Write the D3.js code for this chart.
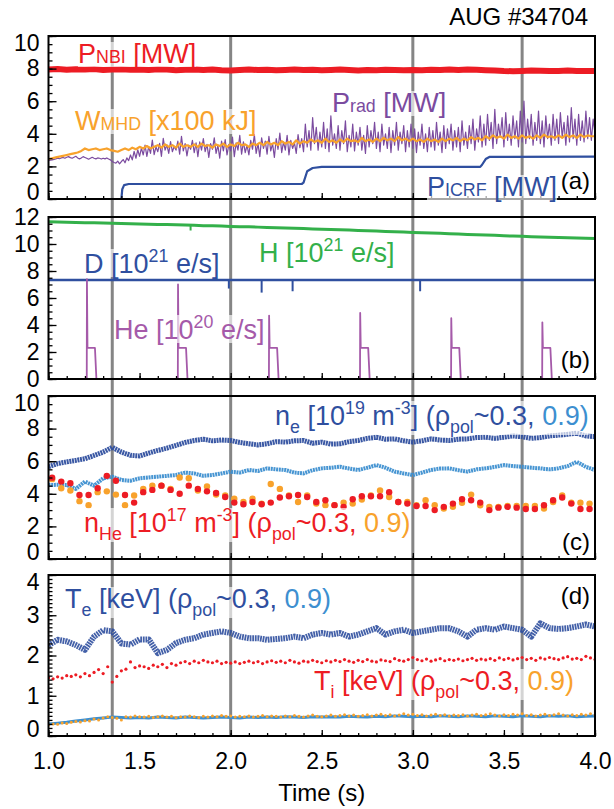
<!DOCTYPE html>
<html lang="en">
<head>
<meta charset="UTF-8" />
<title>AUG #34704 time traces</title>
<script src="https://d3js.org/d3.v7.min.js"></script>
<style>
  body { margin: 0; background: #fff; }
  svg { display: block; }
  text { font-family: "Liberation Sans", Arial, sans-serif; white-space: pre; }
</style>
</head>
<body>
<svg id="chart"></svg>
<script>
// ---------- data ----------
const timeTicks = [1.0, 1.5, 2.0, 2.5, 3.0, 3.5, 4.0];
const markTimes = [1.35, 2.0, 3.0, 3.6];
const yTicksA = [0, 2, 4, 6, 8, 10];
const yTicksB = [0, 2, 4, 6, 8, 10, 12];
const yTicksC = [0, 2, 4, 6, 8, 10];
const yTicksD = [0, 1, 2, 3, 4];

// (a) heating, radiation, stored energy
const pnbi = [ // every 50 ms from 1.0 s
  7.95,7.97,7.93,7.96,7.94,7.97,7.92,7.95,7.96,7.93,
  7.95,7.92,7.96,7.94,7.90,7.93,7.95,7.92,7.94,7.90,
  7.88,7.92,7.94,7.91,7.93,7.90,7.92,7.95,7.91,7.93,
  7.90,7.92,7.94,7.91,7.89,7.92,7.90,7.93,7.91,7.90,
  7.92,7.90,7.93,7.91,7.94,7.92,7.95,7.93,7.90,7.88,
  7.85,7.84,7.86,7.88,7.87,7.85,7.86,7.88,7.86,7.85,
  7.86];
const wmhd = [ // every 20 ms
  2.45,2.50,2.55,2.60,2.65,2.70,2.75,2.80,2.85,2.95,
  3.10,3.00,3.05,3.10,3.00,3.05,3.10,3.00,2.95,2.90,
  3.00,3.10,3.00,3.15,3.05,3.20,3.10,3.25,3.10,3.20,
  3.30,3.15,3.35,3.20,3.30,3.15,3.40,3.20,3.30,3.20,
  3.35,3.20,3.40,3.25,3.30,3.15,3.35,3.25,3.40,3.20,
  3.35,3.25,3.45,3.30,3.35,3.20,3.40,3.30,3.45,3.30,
  3.50,3.35,3.45,3.30,3.55,3.40,3.50,3.35,3.60,3.40,
  3.55,3.45,3.65,3.50,3.60,3.45,3.70,3.50,3.60,3.45,
  3.65,3.50,3.70,3.55,3.60,3.50,3.75,3.55,3.65,3.50,
  3.70,3.55,3.75,3.60,3.70,3.55,3.80,3.60,3.70,3.55,
  3.70,3.55,3.65,3.50,3.70,3.55,3.65,3.50,3.70,3.55,
  3.70,3.60,3.75,3.55,3.70,3.60,3.80,3.65,3.75,3.60,
  3.85,3.70,3.90,3.75,3.85,3.70,3.95,3.75,3.85,3.70,
  3.90,3.75,3.85,3.70,3.90,3.75,3.95,3.80,3.85,3.75,
  3.90,3.75,3.95,3.80,3.90,3.75,3.95,3.80,3.90,3.85,
  3.85];
const prad = [ // every 10 ms
  2.35,2.38,2.40,2.43,2.46,2.50,2.47,2.52,2.55,2.50,
  2.56,2.60,2.54,2.50,2.56,2.62,2.52,2.46,2.52,2.60,
  2.55,2.50,2.44,2.50,2.56,2.50,2.46,2.52,2.50,2.45,
  2.50,2.46,2.52,2.45,2.40,2.30,2.24,2.20,2.32,2.16,
  2.30,2.42,2.22,2.52,2.36,2.70,2.40,2.92,2.50,3.02,
  2.62,3.12,2.70,3.30,2.62,3.22,2.80,3.62,2.72,3.20,
  2.90,3.42,2.62,3.72,3.00,3.32,2.80,3.52,2.90,3.22,
  3.00,3.55,2.75,3.85,2.95,3.40,2.65,3.30,3.05,3.60,
  2.85,3.45,2.60,3.50,3.00,3.70,2.90,3.35,2.55,3.40,
  3.05,3.75,2.80,3.30,2.50,3.55,2.95,3.65,2.70,3.35,
  2.95,3.80,2.60,3.45,3.00,3.90,2.75,3.50,2.85,3.30,
  2.70,3.60,3.05,3.95,2.80,3.40,2.60,3.75,3.10,3.55,
  2.75,3.85,2.95,3.40,2.55,3.70,3.05,4.05,2.85,3.50,
  3.00,3.90,2.70,3.60,3.10,3.45,2.80,3.95,3.15,3.70,
  2.90,4.60,3.20,4.20,3.00,5.00,3.40,4.40,3.00,4.10,
  3.20,4.70,3.10,4.30,2.90,5.10,3.30,4.00,3.10,4.50,
  3.00,4.20,3.40,4.80,2.90,3.90,3.20,4.60,2.95,4.10,
  3.30,4.40,3.00,3.90,2.80,4.50,3.20,4.20,3.40,4.70,
  3.10,4.10,2.90,4.60,3.30,4.00,3.10,4.40,2.85,4.20,
  3.30,4.70,3.00,4.10,3.40,4.50,2.90,4.20,3.20,4.60,
  3.10,4.30,2.85,4.10,3.30,4.60,3.10,4.00,2.90,4.40,
  3.20,4.20,3.00,4.70,3.30,4.10,2.85,4.50,3.10,4.30,
  3.40,4.60,3.00,4.20,3.20,4.40,2.90,4.80,3.30,4.10,
  3.10,4.50,3.40,4.90,3.00,4.30,3.50,5.10,3.20,4.60,
  3.30,5.20,3.60,4.70,3.10,5.50,3.40,4.60,3.80,5.00,
  3.20,5.30,3.60,4.60,3.30,5.10,3.70,4.80,3.20,5.40,
  3.50,6.00,3.40,4.90,3.70,5.20,3.30,4.70,3.60,5.40,
  3.40,4.80,3.20,5.10,3.70,4.60,3.30,5.20,3.60,4.90,
  3.40,5.30,3.80,4.70,3.30,5.10,3.50,5.60,3.70,4.90,
  3.30,5.20,3.60,4.80,3.50,5.40,3.70,5.00,3.60,4.90,
  4.00];
const icrfTime  = [1.00, 1.400, 1.405, 1.415, 1.44, 2.390, 2.400, 2.42, 2.45, 2.50, 3.370, 3.380, 3.400, 3.42, 4.00];
const icrfPower = [0.00, 0.00,  0.60,  0.85,  0.92, 0.92,  1.00,  1.70, 1.90, 1.97, 1.97,  2.10,  2.45,  2.58, 2.60];

// (b) gas fuelling
const hFlux = [ // every 50 ms
  11.65,11.63,11.62,11.60,11.58,11.57,11.55,11.54,11.52,11.50,
  11.48,11.47,11.45,11.44,11.42,11.40,11.38,11.36,11.35,11.33,
  11.30,11.28,11.27,11.25,11.22,11.20,11.18,11.16,11.14,11.12,
  11.10,11.08,11.05,11.03,11.00,10.98,10.96,10.93,10.91,10.88,
  10.86,10.84,10.81,10.79,10.76,10.74,10.71,10.69,10.66,10.64,
  10.61,10.59,10.57,10.54,10.52,10.50,10.48,10.46,10.44,10.42,
  10.40];
const hDipTimes = [1.78];
const hDipValues = [11.0];
const dFluxLevel = 7.33;
const dDipTimes = [1.99, 2.17, 2.34, 3.04];
const dDipValues = [6.7, 6.4, 6.5, 6.5];
const hePuffTimes = [1.21, 1.71, 2.21, 2.71, 3.21, 3.71];
const hePuffPeaks = [7.4, 7.0, 4.7, 4.9, 4.5, 4.2];
const hePuffPlateau = 2.3;
const hePuffLength = 0.045;

// (c) densities
const neCore = [ // every 50 ms
  5.66,5.85,5.96,6.05,6.15,6.35,6.56,6.85,6.56,6.36,
  6.32,6.50,6.66,6.80,6.97,7.15,7.27,7.35,7.25,7.30,
  7.27,7.15,7.07,7.00,7.07,7.20,7.17,7.25,7.27,7.10,
  7.17,7.05,7.07,7.20,7.27,7.40,7.47,7.35,7.37,7.25,
  7.17,7.25,7.37,7.30,7.27,7.35,7.37,7.45,7.47,7.40,
  7.47,7.55,7.50,7.40,7.45,7.55,7.60,7.65,7.72,7.55,
  7.50];
const neEdge = [
  4.54,4.55,4.54,4.30,4.75,4.50,4.95,5.05,4.85,4.80,
  4.95,5.00,5.05,5.10,5.15,5.30,5.25,5.10,5.15,5.25,
  5.36,5.30,5.46,5.40,5.56,5.50,5.46,5.30,5.25,5.45,
  5.56,5.60,5.66,5.55,5.46,5.60,5.76,5.60,5.36,5.25,
  5.15,5.30,5.46,5.55,5.56,5.45,5.36,5.50,5.56,5.65,
  5.76,5.70,5.66,5.60,5.56,5.50,5.56,5.70,5.96,5.65,
  5.46];
const nHeStart = 1.02;
const nHeCore = [ // every 50 ms from 1.02 s
  4.99,4.75,4.65,3.93,3.93,4.34,5.10,4.80,3.93,3.46,
  4.10,4.24,4.50,4.24,4.00,4.50,4.30,4.15,4.05,3.80,
  3.46,3.36,3.50,3.36,3.46,3.77,3.85,3.93,3.80,3.50,
  3.60,3.30,3.20,3.67,3.85,3.85,3.85,4.10,3.50,3.40,
  3.25,3.25,3.00,3.20,3.40,3.67,3.60,3.46,3.00,3.15,
  3.20,3.15,3.07,3.07,3.30,3.60,3.77,3.40,3.07,3.07];
const nHeEdge = [
  4.90,4.34,4.20,3.55,3.30,4.10,4.15,3.95,3.30,3.90,
  4.30,4.50,4.50,4.30,5.00,4.95,4.20,4.45,3.95,3.90,
  3.70,3.50,3.70,3.40,4.60,4.30,3.90,3.50,3.90,3.40,
  3.30,3.30,3.45,3.40,3.65,3.90,4.20,3.80,3.50,3.50,
  3.30,3.60,3.30,3.10,3.20,3.45,3.95,3.30,3.20,3.20,
  3.25,3.25,3.25,3.25,3.10,3.50,3.90,3.45,3.45,3.40];

// (d) temperatures
const teCore = [ // every 50 ms
  2.26,2.39,2.35,2.26,2.14,2.47,2.63,2.60,2.30,2.27,
  2.40,2.40,2.06,2.14,2.31,2.39,2.43,2.52,2.56,2.60,
  2.56,2.47,2.43,2.43,2.39,2.41,2.43,2.47,2.43,2.52,
  2.56,2.52,2.56,2.47,2.52,2.60,2.68,2.52,2.60,2.64,
  2.56,2.60,2.64,2.68,2.68,2.60,2.47,2.64,2.68,2.64,
  2.72,2.68,2.64,2.47,2.80,2.68,2.66,2.68,2.72,2.77,
  2.72];
const teEdge = [
  0.30,0.32,0.34,0.37,0.40,0.43,0.45,0.47,0.46,0.45,
  0.46,0.45,0.47,0.46,0.45,0.47,0.46,0.45,0.46,0.47,
  0.46,0.45,0.47,0.46,0.47,0.46,0.48,0.47,0.46,0.48,
  0.47,0.48,0.47,0.49,0.48,0.47,0.49,0.48,0.50,0.49,
  0.48,0.49,0.48,0.50,0.49,0.48,0.50,0.49,0.48,0.50,
  0.49,0.48,0.50,0.49,0.48,0.50,0.49,0.50,0.48,0.49,
  0.50];
const tiCore = [ // every 25 ms
  1.45,1.42,1.47,1.44,1.50,1.48,1.52,1.47,1.55,1.50,
  1.58,1.65,1.55,1.72,1.34,1.48,1.62,1.66,1.84,1.70,
  1.74,1.72,1.68,1.76,1.72,1.78,1.70,1.80,1.76,1.82,
  1.85,1.80,1.86,1.82,1.88,1.84,1.82,1.86,1.80,1.83,
  1.81,1.84,1.80,1.83,1.86,1.82,1.85,1.80,1.84,1.87,
  1.83,1.86,1.82,1.88,1.84,1.81,1.86,1.84,1.88,1.85,
  1.82,1.87,1.84,1.88,1.85,1.90,1.86,1.83,1.88,1.85,
  1.90,1.86,1.84,1.89,1.87,1.85,1.92,1.88,1.86,1.90,
  1.95,1.90,1.87,1.91,1.86,1.89,1.92,1.87,1.90,1.88,
  1.91,1.87,1.90,1.93,1.88,1.91,1.89,1.92,1.88,1.94,
  1.90,1.93,1.89,1.92,1.95,1.90,1.93,1.88,1.94,1.91,
  1.95,1.92,1.90,1.94,1.97,1.91,1.93,1.90,1.98,1.94,
  1.90];
const tiEdge = [
  0.28,0.30,0.29,0.32,0.31,0.34,0.36,0.35,0.38,0.37,
  0.42,0.40,0.45,0.48,0.46,0.44,0.40,0.48,0.47,0.50,
  0.48,0.47,0.49,0.46,0.48,0.50,0.47,0.49,0.46,0.48,
  0.47,0.50,0.48,0.46,0.49,0.47,0.50,0.48,0.51,0.49,
  0.50,0.47,0.49,0.48,0.50,0.47,0.49,0.51,0.48,0.50,
  0.49,0.47,0.50,0.48,0.51,0.49,0.47,0.50,0.52,0.49,
  0.48,0.50,0.52,0.49,0.51,0.53,0.50,0.52,0.49,0.51,
  0.53,0.50,0.52,0.54,0.51,0.53,0.50,0.52,0.55,0.52,
  0.54,0.51,0.53,0.50,0.52,0.54,0.51,0.53,0.50,0.52,
  0.51,0.53,0.50,0.52,0.54,0.51,0.53,0.55,0.52,0.50,
  0.53,0.51,0.54,0.52,0.55,0.51,0.53,0.50,0.52,0.54,
  0.51,0.53,0.55,0.52,0.50,0.53,0.51,0.54,0.52,0.55,
  0.52];

// ---------- colours ----------
const RED = "#ed1c24", ORANGE = "#f8a22c", PURPLE = "#7b4b9f", HEPURPLE = "#a55aa9",
      BLUE = "#2f4f9f", LIGHTBLUE = "#3d8fd0", GREEN = "#33b04a", GRID = "#858585";

// ---------- layout ----------
const width = 614, height = 809;
const svg = d3.select("#chart").attr("width", width).attr("height", height);
svg.append("rect").attr("width", width).attr("height", height).attr("fill", "#fff");

const x = d3.scaleLinear().domain([1, 4]).range([48.5, 595]);

// shift = how far the end labels are pulled inside the frame
const panels = [
  {id: "a", top: 36,  bottom: 199, max: 10, ticks: yTicksA, minor: 0.5, shift: 7},
  {id: "b", top: 217, bottom: 379, max: 12, ticks: yTicksB, minor: 0.5, shift: 0},
  {id: "c", top: 396, bottom: 559, max: 10, ticks: yTicksC, minor: 0.5, shift: 7},
  {id: "d", top: 575, bottom: 736, max: 4,  ticks: yTicksD, minor: 0.1, shift: 7}
];
panels.forEach(p => {
  p.y = d3.scaleLinear().domain([0, p.max]).range([p.bottom, p.top]);
  svg.append("clipPath").attr("id", "clip-" + p.id)
    .append("rect").attr("x", x(1)).attr("y", p.top)
    .attr("width", x(4) - x(1)).attr("height", p.bottom - p.top);
});
const [pa, pb, pc, pd] = panels;

// vertical marker lines through all panels
svg.append("g").selectAll("line").data(markTimes).join("line")
  .attr("x1", d => x(d)).attr("x2", d => x(d))
  .attr("y1", pa.top).attr("y2", pd.bottom)
  .attr("stroke", GRID).attr("stroke-width", 3);

const series = (vals, dt, t0 = 1) => vals.map((v, i) => ({t: t0 + i * dt, v}));

function trace(p, data, color, w, opacity = 1, dash = null) {
  const line = d3.line().x(d => x(d.t)).y(d => p.y(d.v));
  svg.append("path").datum(data)
    .attr("clip-path", `url(#clip-${p.id})`)
    .attr("d", line).attr("fill", "none")
    .attr("stroke", color).attr("stroke-width", w)
    .attr("stroke-opacity", opacity)
    .attr("stroke-dasharray", dash)
    .attr("stroke-linejoin", "round");
}
function dots(p, data, color, r) {
  svg.append("g").attr("clip-path", `url(#clip-${p.id})`)
    .selectAll("circle").data(data).join("circle")
    .attr("cx", d => x(d.t)).attr("cy", d => p.y(d.v)).attr("r", r)
    .attr("fill", color);
}
function dips(p, times, values, level, color, w) {
  svg.append("g").selectAll("line").data(times.map((t, i) => ({t, v: values[i]}))).join("line")
    .attr("x1", d => x(d.t)).attr("x2", d => x(d.t))
    .attr("y1", p.y(level)).attr("y2", d => p.y(d.v))
    .attr("stroke", color).attr("stroke-width", w);
}

// ---- (a)
trace(pa, series(pnbi, 0.05), RED, 6);
trace(pa, series(prad, 0.01), PURPLE, 1.2);
trace(pa, series(wmhd, 0.02), ORANGE, 2.2);
trace(pa, icrfTime.map((t, i) => ({t, v: icrfPower[i]})), BLUE, 2.2);

// ---- (b)
trace(pb, series(hFlux, 0.05), GREEN, 3);
dips(pb, hDipTimes, hDipValues, 11.45, GREEN, 2);
trace(pb, [{t: 1, v: dFluxLevel}, {t: 4, v: dFluxLevel}], BLUE, 2.6);
dips(pb, dDipTimes, dDipValues, dFluxLevel, BLUE, 2);
const heTrace = [{t: 1, v: 0}];
hePuffTimes.forEach((t0, i) => {
  heTrace.push({t: t0, v: 0}, {t: t0 + 0.001, v: hePuffPeaks[i]},
               {t: t0 + 0.004, v: hePuffPlateau}, {t: t0 + hePuffLength, v: hePuffPlateau},
               {t: t0 + hePuffLength + 0.008, v: 0});
});
heTrace.push({t: 4, v: 0});
trace(pb, heTrace, HEPURPLE, 1.8);

// ---- (c)  dense diagnostics drawn as speckled bands
trace(pc, series(neCore, 0.05), BLUE, 5, 0.95, "2 0.7");
trace(pc, series(neEdge, 0.05), LIGHTBLUE, 4, 0.95, "2 0.7");
dots(pc, series(nHeEdge, 0.05, nHeStart), ORANGE, 3.2);
dots(pc, series(nHeCore, 0.05, nHeStart), RED, 3.2);

// ---- (d)
trace(pd, series(teCore, 0.05), BLUE, 6, 0.9, "1.8 0.8");
trace(pd, series(teEdge, 0.05), LIGHTBLUE, 3);
dots(pd, series(tiEdge, 0.025), ORANGE, 1.5);
dots(pd, series(tiCore, 0.025), RED, 1.6);

// ---- frames and axes
panels.forEach(p => {
  const isLast = p.id === "d";
  const minorX = svg.append("g").attr("transform", `translate(0,${p.bottom})`)
    .call(d3.axisBottom(x).tickValues(d3.range(1, 4.001, 0.1)).tickSize(-3).tickFormat(""));
  const majorX = svg.append("g").attr("transform", `translate(0,${p.bottom})`)
    .call(d3.axisBottom(x).tickValues(timeTicks).tickSize(-6).tickPadding(17)
      .tickFormat(isLast ? d3.format(".1f") : ""));
  const minorY = svg.append("g").attr("transform", `translate(${x(1)},0)`)
    .call(d3.axisLeft(p.y).tickValues(d3.range(0, p.max + 0.001, p.minor)).tickSize(-4).tickFormat(""));
  const majorY = svg.append("g").attr("transform", `translate(${x(1)},0)`)
    .call(d3.axisLeft(p.y).tickValues(p.ticks).tickSize(-8).tickPadding(9).tickFormat(d3.format("d")));
  [minorX, majorX, minorY, majorY].forEach(g => {
    g.select(".domain").remove();
    g.selectAll(".tick line").attr("stroke", "#000").attr("stroke-width", 1.3);
    g.selectAll(".tick text").attr("font-size", 23).attr("fill", "#000")
      .attr("font-family", "'Liberation Sans', Arial, sans-serif");
  });
  // end labels sit a little inside the panel, as in the figure
  majorY.selectAll(".tick text")
    .attr("y", d => d === p.max ? p.shift : d === 0 ? -p.shift : 0);
  svg.append("rect").attr("x", x(1)).attr("y", p.top)
    .attr("width", x(4) - x(1)).attr("height", p.bottom - p.top)
    .attr("fill", "none").attr("stroke", "#000").attr("stroke-width", 2);
});

// ---- annotations
const labelLayer = svg.append("g");
function richText(x0, y0, color, parts, size = 27) {
  const g = labelLayer.append("g");
  const bg = g.append("rect").attr("fill", "#fff").attr("fill-opacity", 0.65);
  const t = g.append("text").attr("x", x0).attr("y", y0)
    .attr("fill", color).attr("font-size", size);
  let shift = 0;
  parts.forEach(([s, kind, col]) => {
    const off = kind === "sub" ? 8 : kind === "sup" ? -11 : 0;
    const fs = kind === "n" ? size : size * 0.66;
    t.append("tspan").attr("dy", off - shift).attr("font-size", fs)
      .attr("fill", col || color).text(s);
    shift = off;
  });
  const b = t.node().getBBox();
  bg.attr("x", b.x).attr("y", b.y + 3).attr("width", b.width).attr("height", b.height - 5);
}
richText(78, 63, RED, [["P", "n"], ["NBI", "sc"], [" [MW]", "n"]]);
richText(75, 130, ORANGE, [["W", "n"], ["MHD", "sc"], [" [x100 kJ]", "n"]]);
richText(332, 112, PURPLE, [["P", "n"], ["rad", "sc"], [" [MW]", "n"]]);
richText(427, 196, BLUE, [["P", "n"], ["ICRF", "sc"], [" [MW]", "n"]]);

richText(259, 262, GREEN, [["H [10", "n"], ["21", "sup"], [" e/s]", "n"]]);
richText(84, 273, BLUE, [["D [10", "n"], ["21", "sup"], [" e/s]", "n"]]);
richText(114, 339, HEPURPLE, [["He [10", "n"], ["20", "sup"], [" e/s]", "n"]]);

richText(275, 425, BLUE, [["n", "n"], ["e", "sub"], [" [10", "n"], ["19", "sup"], [" m", "n"], ["-3", "sup"],
  ["] (ρ", "n"], ["pol", "sub"], ["~0.3, ", "n"], ["0.9)", "n", LIGHTBLUE]]);
richText(84, 532, RED, [["n", "n"], ["He", "sub"], [" [10", "n"], ["17", "sup"], [" m", "n"], ["-3", "sup"],
  ["] (ρ", "n"], ["pol", "sub"], ["~0.3, ", "n"], ["0.9)", "n", ORANGE]]);

richText(65, 608, BLUE, [["T", "n"], ["e", "sub"], [" [keV] (ρ", "n"], ["pol", "sub"], ["~0.3, ", "n"], ["0.9)", "n", LIGHTBLUE]]);
richText(314, 690, RED, [["T", "n"], ["i", "sub"], [" [keV] (ρ", "n"], ["pol", "sub"], ["~0.3, ", "n"], ["0.9)", "n", ORANGE]]);

const panelTags = [["(a)", 189], ["(b)", 368], ["(c)", 550], ["(d)", 604]];
svg.append("g").selectAll("text").data(panelTags).join("text")
  .attr("x", 590).attr("y", d => d[1]).attr("text-anchor", "end")
  .attr("font-family", "'Open Sans', sans-serif").attr("font-size", 24).attr("fill", "#000")
  .text(d => d[0]);

svg.append("text").attr("x", 588).attr("y", 25).attr("text-anchor", "end")
  .attr("font-family", "'Open Sans', sans-serif").attr("font-size", 24).attr("fill", "#000")
  .text("AUG #34704");

svg.append("text").attr("x", (x(1) + x(4)) / 2).attr("y", 801).attr("text-anchor", "middle")
  .attr("font-size", 24).attr("fill", "#000").text("Time (s)");
</script>
</body>
</html>
